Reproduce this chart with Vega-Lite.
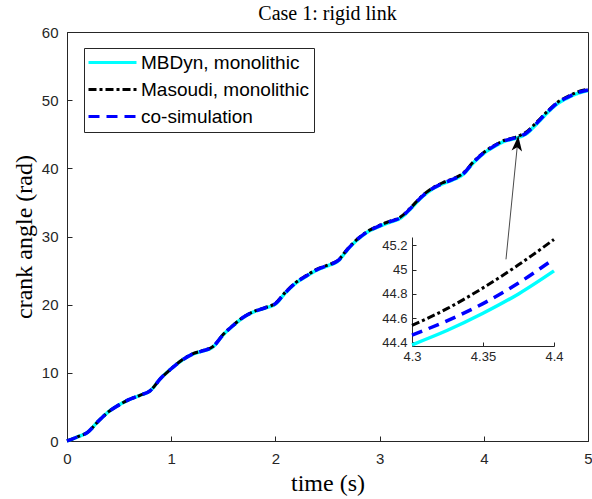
{
  "$schema": "https://vega.github.io/schema/vega-lite/v6.json",
  "width": 521,
  "height": 409,
  "autosize": "none",
  "padding": {"left": 67, "top": 32, "right": 4, "bottom": 58},
  "background": "white",
  "title": {"text": "Case 1: rigid link", "font": "Liberation Serif", "fontSize": 20, "fontWeight": "normal", "color": "black", "anchor": "middle", "frame": "group", "offset": -15, "baseline": "alphabetic"},
  "config": {
    "view": {"stroke": "#262626", "strokeWidth": 1},
    "axis": {"grid": false, "domainColor": "#262626", "tickColor": "#262626", "labelColor": "#262626", "labelFont": "Liberation Sans", "titleFont": "Liberation Serif", "titleFontWeight": "normal", "titleColor": "black"},
    "legend": {"orient": "none", "legendX": 17, "legendY": 16, "title": null, "symbolType": "M-4,0L4,0", "symbolSize": 144, "symbolOffset": 14, "symbolStrokeWidth": 3, "labelFont": "Liberation Sans", "labelFontSize": 19, "labelColor": "black", "strokeColor": "#262626", "fillColor": "white", "padding": 5, "rowPadding": 7, "labelOffset": 19, "labelLimit": 400, "cornerRadius": 0}
  },
  "datasets": {
    "arrow": [{"t": 4.213, "v": 26.65, "t2": 4.331, "v2": 44.74}]
  },
  "data": {"values": [
    {"t":0,"v":0,"series":"MBDyn, monolithic"},{"t":0.1,"v":0.6,"series":"MBDyn, monolithic"},{"t":0.2,"v":1.3,"series":"MBDyn, monolithic"},{"t":0.3,"v":2.9,"series":"MBDyn, monolithic"},{"t":0.4,"v":4.3,"series":"MBDyn, monolithic"},{"t":0.5,"v":5.3,"series":"MBDyn, monolithic"},{"t":0.6,"v":6.1,"series":"MBDyn, monolithic"},{"t":0.7,"v":6.7,"series":"MBDyn, monolithic"},{"t":0.8,"v":7.4,"series":"MBDyn, monolithic"},{"t":0.9,"v":9.2,"series":"MBDyn, monolithic"},
    {"t":1.0,"v":10.6,"series":"MBDyn, monolithic"},{"t":1.1,"v":11.8,"series":"MBDyn, monolithic"},{"t":1.2,"v":12.7,"series":"MBDyn, monolithic"},{"t":1.3,"v":13.2,"series":"MBDyn, monolithic"},{"t":1.4,"v":13.8,"series":"MBDyn, monolithic"},{"t":1.5,"v":15.6,"series":"MBDyn, monolithic"},{"t":1.6,"v":17.0,"series":"MBDyn, monolithic"},{"t":1.7,"v":18.2,"series":"MBDyn, monolithic"},{"t":1.8,"v":19.0,"series":"MBDyn, monolithic"},{"t":1.9,"v":19.5,"series":"MBDyn, monolithic"},
    {"t":2.0,"v":20.1,"series":"MBDyn, monolithic"},{"t":2.1,"v":21.8,"series":"MBDyn, monolithic"},{"t":2.2,"v":23.2,"series":"MBDyn, monolithic"},{"t":2.3,"v":24.2,"series":"MBDyn, monolithic"},{"t":2.4,"v":25.1,"series":"MBDyn, monolithic"},{"t":2.5,"v":25.7,"series":"MBDyn, monolithic"},{"t":2.6,"v":26.4,"series":"MBDyn, monolithic"},{"t":2.7,"v":28.2,"series":"MBDyn, monolithic"},{"t":2.8,"v":29.7,"series":"MBDyn, monolithic"},{"t":2.9,"v":30.8,"series":"MBDyn, monolithic"},
    {"t":3.0,"v":31.5,"series":"MBDyn, monolithic"},{"t":3.1,"v":32.1,"series":"MBDyn, monolithic"},{"t":3.2,"v":32.7,"series":"MBDyn, monolithic"},{"t":3.3,"v":34.1,"series":"MBDyn, monolithic"},{"t":3.4,"v":35.7,"series":"MBDyn, monolithic"},{"t":3.5,"v":36.9,"series":"MBDyn, monolithic"},{"t":3.6,"v":37.7,"series":"MBDyn, monolithic"},{"t":3.7,"v":38.3,"series":"MBDyn, monolithic"},{"t":3.8,"v":39.1,"series":"MBDyn, monolithic"},{"t":3.9,"v":40.8,"series":"MBDyn, monolithic"},
    {"t":4.0,"v":42.2,"series":"MBDyn, monolithic"},{"t":4.1,"v":43.2,"series":"MBDyn, monolithic"},{"t":4.2,"v":43.98,"series":"MBDyn, monolithic"},{"t":4.3,"v":44.38,"series":"MBDyn, monolithic"},{"t":4.325,"v":44.5,"series":"MBDyn, monolithic"},{"t":4.35,"v":44.64,"series":"MBDyn, monolithic"},{"t":4.375,"v":44.8,"series":"MBDyn, monolithic"},{"t":4.4,"v":44.99,"series":"MBDyn, monolithic"},
    {"t":4.5,"v":46.4,"series":"MBDyn, monolithic"},{"t":4.6,"v":48.0,"series":"MBDyn, monolithic"},{"t":4.7,"v":49.4,"series":"MBDyn, monolithic"},{"t":4.8,"v":50.3,"series":"MBDyn, monolithic"},{"t":4.9,"v":51.0,"series":"MBDyn, monolithic"},{"t":5.0,"v":51.4,"series":"MBDyn, monolithic"},

    {"t":0,"v":0,"series":"Masoudi, monolithic"},{"t":0.1,"v":0.6,"series":"Masoudi, monolithic"},{"t":0.2,"v":1.3,"series":"Masoudi, monolithic"},{"t":0.3,"v":2.9,"series":"Masoudi, monolithic"},{"t":0.4,"v":4.3,"series":"Masoudi, monolithic"},{"t":0.5,"v":5.3,"series":"Masoudi, monolithic"},{"t":0.6,"v":6.1,"series":"Masoudi, monolithic"},{"t":0.7,"v":6.7,"series":"Masoudi, monolithic"},{"t":0.8,"v":7.4,"series":"Masoudi, monolithic"},{"t":0.9,"v":9.2,"series":"Masoudi, monolithic"},
    {"t":1.0,"v":10.6,"series":"Masoudi, monolithic"},{"t":1.1,"v":11.85,"series":"Masoudi, monolithic"},{"t":1.2,"v":12.75,"series":"Masoudi, monolithic"},{"t":1.3,"v":13.25,"series":"Masoudi, monolithic"},{"t":1.4,"v":13.85,"series":"Masoudi, monolithic"},{"t":1.5,"v":15.65,"series":"Masoudi, monolithic"},{"t":1.6,"v":17.05,"series":"Masoudi, monolithic"},{"t":1.7,"v":18.25,"series":"Masoudi, monolithic"},{"t":1.8,"v":19.05,"series":"Masoudi, monolithic"},{"t":1.9,"v":19.55,"series":"Masoudi, monolithic"},
    {"t":2.0,"v":20.2,"series":"Masoudi, monolithic"},{"t":2.1,"v":21.9,"series":"Masoudi, monolithic"},{"t":2.2,"v":23.3,"series":"Masoudi, monolithic"},{"t":2.3,"v":24.3,"series":"Masoudi, monolithic"},{"t":2.4,"v":25.2,"series":"Masoudi, monolithic"},{"t":2.5,"v":25.8,"series":"Masoudi, monolithic"},{"t":2.6,"v":26.5,"series":"Masoudi, monolithic"},{"t":2.7,"v":28.3,"series":"Masoudi, monolithic"},{"t":2.8,"v":29.8,"series":"Masoudi, monolithic"},{"t":2.9,"v":30.9,"series":"Masoudi, monolithic"},
    {"t":3.0,"v":31.65,"series":"Masoudi, monolithic"},{"t":3.1,"v":32.25,"series":"Masoudi, monolithic"},{"t":3.2,"v":32.85,"series":"Masoudi, monolithic"},{"t":3.3,"v":34.25,"series":"Masoudi, monolithic"},{"t":3.4,"v":35.85,"series":"Masoudi, monolithic"},{"t":3.5,"v":37.05,"series":"Masoudi, monolithic"},{"t":3.6,"v":37.85,"series":"Masoudi, monolithic"},{"t":3.7,"v":38.45,"series":"Masoudi, monolithic"},{"t":3.8,"v":39.25,"series":"Masoudi, monolithic"},{"t":3.9,"v":40.95,"series":"Masoudi, monolithic"},
    {"t":4.0,"v":42.35,"series":"Masoudi, monolithic"},{"t":4.1,"v":43.35,"series":"Masoudi, monolithic"},{"t":4.2,"v":44.12,"series":"Masoudi, monolithic"},{"t":4.3,"v":44.54,"series":"Masoudi, monolithic"},{"t":4.325,"v":44.68,"series":"Masoudi, monolithic"},{"t":4.35,"v":44.85,"series":"Masoudi, monolithic"},{"t":4.375,"v":45.04,"series":"Masoudi, monolithic"},{"t":4.4,"v":45.25,"series":"Masoudi, monolithic"},
    {"t":4.5,"v":46.65,"series":"Masoudi, monolithic"},{"t":4.6,"v":48.2,"series":"Masoudi, monolithic"},{"t":4.7,"v":49.6,"series":"Masoudi, monolithic"},{"t":4.8,"v":50.5,"series":"Masoudi, monolithic"},{"t":4.9,"v":51.2,"series":"Masoudi, monolithic"},{"t":5.0,"v":51.6,"series":"Masoudi, monolithic"},

    {"t":0,"v":0,"series":"co-simulation"},{"t":0.1,"v":0.6,"series":"co-simulation"},{"t":0.2,"v":1.3,"series":"co-simulation"},{"t":0.3,"v":2.9,"series":"co-simulation"},{"t":0.4,"v":4.3,"series":"co-simulation"},{"t":0.5,"v":5.3,"series":"co-simulation"},{"t":0.6,"v":6.1,"series":"co-simulation"},{"t":0.7,"v":6.7,"series":"co-simulation"},{"t":0.8,"v":7.4,"series":"co-simulation"},{"t":0.9,"v":9.2,"series":"co-simulation"},
    {"t":1.0,"v":10.6,"series":"co-simulation"},{"t":1.1,"v":11.82,"series":"co-simulation"},{"t":1.2,"v":12.72,"series":"co-simulation"},{"t":1.3,"v":13.22,"series":"co-simulation"},{"t":1.4,"v":13.82,"series":"co-simulation"},{"t":1.5,"v":15.62,"series":"co-simulation"},{"t":1.6,"v":17.02,"series":"co-simulation"},{"t":1.7,"v":18.22,"series":"co-simulation"},{"t":1.8,"v":19.02,"series":"co-simulation"},{"t":1.9,"v":19.52,"series":"co-simulation"},
    {"t":2.0,"v":20.15,"series":"co-simulation"},{"t":2.1,"v":21.85,"series":"co-simulation"},{"t":2.2,"v":23.25,"series":"co-simulation"},{"t":2.3,"v":24.25,"series":"co-simulation"},{"t":2.4,"v":25.15,"series":"co-simulation"},{"t":2.5,"v":25.75,"series":"co-simulation"},{"t":2.6,"v":26.45,"series":"co-simulation"},{"t":2.7,"v":28.25,"series":"co-simulation"},{"t":2.8,"v":29.75,"series":"co-simulation"},{"t":2.9,"v":30.85,"series":"co-simulation"},
    {"t":3.0,"v":31.57,"series":"co-simulation"},{"t":3.1,"v":32.17,"series":"co-simulation"},{"t":3.2,"v":32.77,"series":"co-simulation"},{"t":3.3,"v":34.17,"series":"co-simulation"},{"t":3.4,"v":35.77,"series":"co-simulation"},{"t":3.5,"v":36.97,"series":"co-simulation"},{"t":3.6,"v":37.77,"series":"co-simulation"},{"t":3.7,"v":38.37,"series":"co-simulation"},{"t":3.8,"v":39.17,"series":"co-simulation"},{"t":3.9,"v":40.87,"series":"co-simulation"},
    {"t":4.0,"v":42.27,"series":"co-simulation"},{"t":4.1,"v":43.27,"series":"co-simulation"},{"t":4.2,"v":44.05,"series":"co-simulation"},{"t":4.3,"v":44.46,"series":"co-simulation"},{"t":4.325,"v":44.58,"series":"co-simulation"},{"t":4.35,"v":44.72,"series":"co-simulation"},{"t":4.375,"v":44.89,"series":"co-simulation"},{"t":4.4,"v":45.09,"series":"co-simulation"},
    {"t":4.5,"v":46.5,"series":"co-simulation"},{"t":4.6,"v":48.1,"series":"co-simulation"},{"t":4.7,"v":49.5,"series":"co-simulation"},{"t":4.8,"v":50.4,"series":"co-simulation"},{"t":4.9,"v":51.1,"series":"co-simulation"},{"t":5.0,"v":51.5,"series":"co-simulation"}
  ]},
  "layer": [
    {
      "encoding": {
        "x": {"field": "t", "type": "quantitative", "scale": {"domain": [0, 5], "nice": false, "zero": false},
              "axis": {"title": "time (s)", "values": [0, 1, 2, 3, 4, 5], "labelFontSize": 15, "tickSize": -5, "labelPadding": 15, "labelFlush": false, "titleFontSize": 24, "titleY": 49, "titleBaseline": "alphabetic"}},
        "y": {"field": "v", "type": "quantitative", "scale": {"domain": [0, 60], "nice": false, "zero": false},
              "axis": {"title": "crank angle (rad)", "values": [0, 10, 20, 30, 40, 50, 60], "labelFontSize": 15, "tickSize": -5, "labelPadding": 14, "titleFontSize": 24, "titleX": -36, "titleBaseline": "alphabetic"}}
      },
      "layer": [
        {
          "transform": [{"filter": "datum.series === 'MBDyn, monolithic'"}],
          "mark": {"type": "line", "strokeWidth": 3.5, "interpolate": "monotone"},
          "encoding": {
            "color": {"field": "series", "type": "nominal", "sort": null, "scale": {"domain": ["MBDyn, monolithic", "Masoudi, monolithic", "co-simulation"], "range": ["#00FFFF", "#000000", "#0000FF"]}},
            "strokeDash": {"field": "series", "type": "nominal", "sort": null, "scale": {"domain": ["MBDyn, monolithic", "Masoudi, monolithic", "co-simulation"], "range": [[1, 0], [8, 3, 3, 3], [11, 7]]}}
          }
        },
        {
          "transform": [{"filter": "datum.series === 'Masoudi, monolithic'"}],
          "mark": {"type": "line", "strokeWidth": 3, "interpolate": "monotone"},
          "encoding": {
            "color": {"field": "series", "type": "nominal", "sort": null},
            "strokeDash": {"field": "series", "type": "nominal", "sort": null}
          }
        },
        {
          "transform": [{"filter": "datum.series === 'co-simulation'"}],
          "mark": {"type": "line", "strokeWidth": 3.5, "interpolate": "monotone"},
          "encoding": {
            "color": {"field": "series", "type": "nominal", "sort": null},
            "strokeDash": {"field": "series", "type": "nominal", "sort": null}
          }
        },
        {
          "data": {"name": "arrow"},
          "mark": {"type": "rule", "color": "#1a1a1a", "strokeWidth": 0.8},
          "encoding": {"x2": {"field": "t2"}, "y2": {"field": "v2"}}
        },
        {
          "data": {"name": "arrow"},
          "mark": {"type": "point", "filled": true, "color": "black", "opacity": 1, "strokeWidth": 0, "size": 225, "shape": "M0,0L0.7,2L0,1.5L-0.7,2Z", "angle": 5.7},
          "encoding": {"x": {"field": "t2", "type": "quantitative"}, "y": {"field": "v2", "type": "quantitative"}}
        }
      ]
    },
    {
      "transform": [{"filter": {"field": "t", "range": [4.3, 4.4]}}],
      "encoding": {
        "x": {"field": "t", "type": "quantitative", "scale": {"domain": [4.3, 4.4], "range": [345, 487], "nice": false, "zero": false},
              "axis": {"orient": "bottom", "offset": -95, "title": null, "values": [4.3, 4.35, 4.4], "format": "~g", "labelFontSize": 13, "tickSize": -4, "labelPadding": 8, "labelFlush": false}},
        "y": {"field": "v", "type": "quantitative", "scale": {"domain": [44.37, 45.27], "range": [314, 205], "nice": false, "zero": false},
              "axis": {"orient": "left", "offset": -345, "title": null, "values": [44.4, 44.6, 44.8, 45, 45.2], "format": "~g", "labelFontSize": 13, "tickSize": -4, "labelPadding": 9}}
      },
      "layer": [
        {
          "transform": [{"filter": "datum.series === 'MBDyn, monolithic'"}],
          "mark": {"type": "line", "strokeWidth": 3.5, "color": "#00FFFF", "interpolate": "monotone", "clip": true}
        },
        {
          "transform": [{"filter": "datum.series === 'Masoudi, monolithic'"}],
          "mark": {"type": "line", "strokeWidth": 3, "color": "#000000", "strokeDash": [8, 3, 3, 3], "interpolate": "monotone", "clip": true}
        },
        {
          "transform": [{"filter": "datum.series === 'co-simulation'"}],
          "mark": {"type": "line", "strokeWidth": 3.5, "color": "#0000FF", "strokeDash": [11, 7], "interpolate": "monotone", "clip": true}
        }
      ]
    }
  ],
  "resolve": {"scale": {"x": "independent", "y": "independent"}}
}
